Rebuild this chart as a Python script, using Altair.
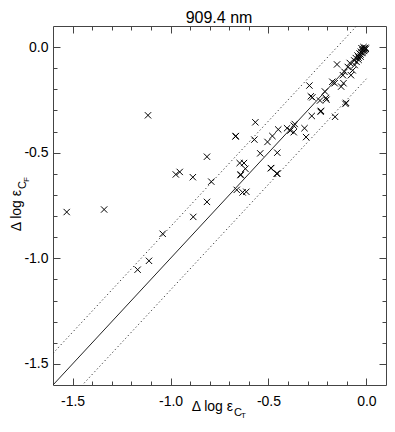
import altair as alt
import pandas as pd

# ---------------- data ----------------
TITLE = "909.4 nm"

x_vals = [
    -1.530, -1.339, -1.168, -1.110, -1.040, -1.115,
    -0.973, -0.953, -0.886, -0.884, -0.814, -0.814, -0.792,
    -0.668, -0.667, -0.662, -0.647, -0.642, -0.642, -0.632, -0.625, -0.618, -0.613,
    -0.572, -0.567, -0.542, -0.505, -0.488, -0.486, -0.480, -0.458, -0.455, -0.450, -0.455,
    -0.405, -0.388, -0.371, -0.371, -0.366, -0.316, -0.308,
    -0.291, -0.284, -0.279, -0.276, -0.237, -0.234, -0.232, -0.212, -0.207, -0.204,
    -0.174, -0.162, -0.160, -0.150, -0.129, -0.120, -0.117, -0.112, -0.107, -0.104,
    -0.095, -0.085, -0.079, -0.070, -0.062, -0.060, -0.054, -0.050, -0.045, -0.040,
    -0.040, -0.035, -0.030, -0.030, -0.028, -0.025, -0.024, -0.020, -0.018, -0.015,
    -0.015, -0.012, -0.010, -0.008, -0.005, -0.003,
]
y_vals = [
    -0.781, -0.769, -1.054, -1.012, -0.884, -0.323,
    -0.603, -0.591, -0.616, -0.804, -0.733, -0.519, -0.637,
    -0.423, -0.421, -0.676, -0.549, -0.606, -0.603, -0.688, -0.549, -0.576, -0.685,
    -0.438, -0.356, -0.503, -0.449, -0.573, -0.573, -0.421, -0.599, -0.500, -0.390, -0.599,
    -0.384, -0.395, -0.372, -0.403, -0.364, -0.384, -0.426,
    -0.182, -0.233, -0.326, -0.238, -0.253, -0.306, -0.302, -0.210, -0.241, -0.249,
    -0.164, -0.171, -0.330, -0.082, -0.187, -0.133, -0.171, -0.117, -0.269, -0.264,
    -0.094, -0.075, -0.133, -0.110, -0.063, -0.085, -0.052, -0.070, -0.040, -0.050,
    -0.060, -0.030, -0.035, -0.045, -0.022, -0.005, -0.028, -0.015, -0.025, -0.010,
    0.000, -0.018, -0.005, -0.012, -0.003, -0.008,
]

diag_x = [-1.6, 0.0]
diag_y = [-1.6, 0.0]
upper_y = [-1.45, 0.15]
lower_y = [-1.75, -0.15]

major_ticks = [-1.5, -1.0, -0.5, 0.0]
minor_ticks = [-1.5, -1.4, -1.3, -1.2, -1.1, -1.0, -0.9, -0.8, -0.7, -0.6,
               -0.5, -0.4, -0.3, -0.2, -0.1, 0.0]
axis_domain = [-1.6, 0.1]

# ---------------- chart ----------------
W, H = 333, 359
FONT = "Liberation Sans"
INK = "#000000"
FRAME = "#444444"

pts = pd.DataFrame({"x": x_vals, "y": y_vals})
diag = pd.DataFrame({"x": diag_x, "y": diag_y})
upper = pd.DataFrame({"x": diag_x, "y": upper_y})
lower = pd.DataFrame({"x": diag_x, "y": lower_y})

sc = alt.Scale(domain=axis_domain, nice=False, zero=False)
label_expr = "datum.value == 0 ? '0.0' : '-' + format(abs(datum.value), '.1f')"


def label_axis(orient):
    return alt.Axis(orient=orient, values=major_ticks, labelExpr=label_expr,
                    ticks=False, domain=False, grid=False, title=None,
                    labelFont=FONT, labelFontSize=14, labelColor=INK,
                    labelPadding=9 if orient == "bottom" else 5,
                    labelBound=False, labelFlush=False, labelOverlap=False)


def tick_axis(orient, offset, values, size):
    return alt.Axis(orient=orient, offset=offset, values=values, labels=False,
                    ticks=True, tickSize=size, tickColor=FRAME, tickWidth=1,
                    domain=False, grid=False, title=None)


cross = "M-1,-1L1,1M-1,1L1,-1"

points = alt.Chart(pts).mark_point(
    shape=cross, filled=False, size=40, stroke=INK, strokeWidth=1, opacity=1
).encode(
    x=alt.X("x:Q", scale=sc, axis=label_axis("bottom")),
    y=alt.Y("y:Q", scale=sc, axis=label_axis("left")),
)

diag_line = alt.Chart(diag).mark_line(
    color="#222222", strokeWidth=1, clip=True
).encode(
    x=alt.X("x:Q", scale=sc, axis=tick_axis("top", -H, minor_ticks, 4)),
    y=alt.Y("y:Q", scale=sc, axis=tick_axis("right", -W, minor_ticks, 4)),
)

upper_line = alt.Chart(upper).mark_line(
    color="#333333", strokeWidth=1, strokeDash=[1.2, 2.6], clip=True
).encode(
    x=alt.X("x:Q", scale=sc, axis=tick_axis("top", -H, major_ticks, 7)),
    y=alt.Y("y:Q", scale=sc, axis=tick_axis("right", -W, major_ticks, 7)),
)

lower_line = alt.Chart(lower).mark_line(
    color="#333333", strokeWidth=1, strokeDash=[1.2, 2.6], clip=True
).encode(
    x=alt.X("x:Q", scale=sc, axis=tick_axis("bottom", -H, minor_ticks, 4)),
    y=alt.Y("y:Q", scale=sc, axis=tick_axis("left", -W, minor_ticks, 4)),
)

ghost = alt.Chart(diag).mark_point(opacity=0).encode(
    x=alt.X("x:Q", scale=sc, axis=tick_axis("bottom", -H, major_ticks, 7)),
    y=alt.Y("y:Q", scale=sc, axis=tick_axis("left", -W, major_ticks, 7)),
)

one = pd.DataFrame({"k": [0]})


def txt(s, px, py, size, align="left", angle=0):
    return alt.Chart(one).mark_text(
        text=s, font=FONT, fontSize=size, color=INK, align=align,
        baseline="alphabetic", angle=angle
    ).encode(x=alt.value(px), y=alt.value(py))


texts = [
    txt(TITLE, 166, -3, 16, align="center"),
    txt("\u0394 log \u03b5", 180, 385, 14, align="right"),
    txt("C", 181, 390, 11),
    txt("T", 188, 392, 8),
    txt("\u0394 log \u03b5", -32, 164, 14, align="right", angle=270),
    txt("C", -27, 163, 11, angle=270),
    txt("F", -24, 156, 8, angle=270),
]

chart = alt.layer(points, diag_line, upper_line, lower_line, ghost, *texts).properties(
    width=W, height=H,
    autosize=alt.AutoSizeParams(type="none"),
    padding={"left": 45, "top": 18, "right": 1, "bottom": 35},
).configure_view(stroke=FRAME, strokeWidth=1)

chart.save("out.html", embed_options={"renderer": "svg", "actions": False})
